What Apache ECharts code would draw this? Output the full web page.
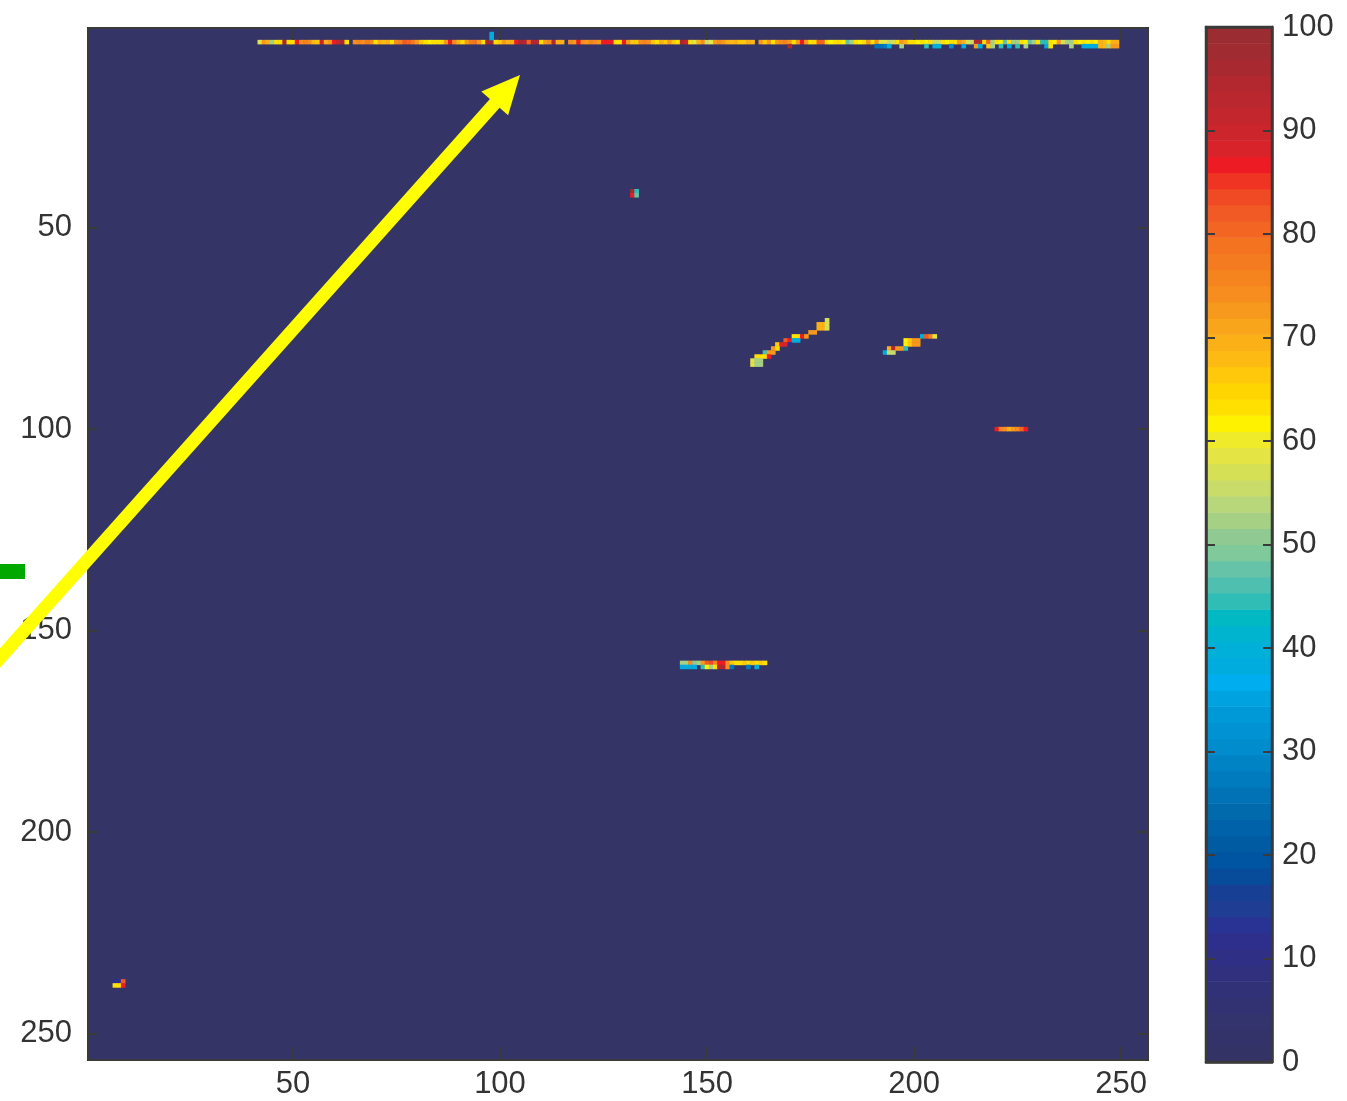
<!DOCTYPE html>
<html>
<head>
<meta charset="utf-8">
<script src="https://cdn.jsdelivr.net/npm/echarts/dist/echarts.min.js"></script>
<style>
html,body{margin:0;padding:0;background:#ffffff;}
#chart{width:1347px;height:1101px;}
</style>
</head>
<body>
<div id="chart"></div>
<script>
// ---------------- data ----------------
const nCols = 256;
const nRows = 256;
const xTickValues = [50, 100, 150, 200, 250];
const yTickValues = [50, 100, 150, 200, 250];
const colorbarMin = 0;
const colorbarMax = 100;
const colorbarStep = 10;

// 64-level colormap, value 0 (bottom) -> 100 (top)
const colormap = [
  '#343366','#343369','#33336e','#323273','#313178','#30307f','#2f2f85','#2e2f8c',
  '#283393','#1f3d92','#173f94','#074c9b','#0055a2','#005ba3','#0062a8','#006aad',
  '#0072b5','#007bbe','#0083c5','#008ccd','#0092d2','#0099d8','#00a2e0','#00aeef',
  '#00acde','#00b0d8','#00b4cf','#00b9c2','#2fbdb5','#4fc0b0','#66c3a8','#80c99b',
  '#90ca92','#a6d185','#b8d67a','#c9dc6a','#d6e055','#e4e444','#f0eb2a','#fff200',
  '#ffe000','#ffd500','#ffc80a','#fcba12','#fbb018','#f9a51b','#f7991c','#f68d1e',
  '#f5841f','#f47b20','#f37321','#f26522','#f15a24','#f04a24','#ef3424','#ed1c24',
  '#d8232a','#cc252c','#c4262d','#bb272e','#b3282f','#a82a30','#a02b31','#9b2d32'
];

// row 4: values for columns 42..249 (null = empty pixel)
const row4StartCol = 42;
const row4Values = [
  58,72,70,53,63,63,96,63,63,86,
  74,76,74,68,66,90,70,72,87,92,
  96,63,null,74,76,74,78,74,63,70,
  68,70,63,74,76,82,80,78,73,67,
  63,62,63,64,63,72,87,74,70,63,
  72,78,79,72,64,96,96,63,66,72,
  69,70,86,96,95,80,95,95,63,72,
  74,95,69,70,null,74,72,87,74,72,
  76,74,72,87,86,87,63,63,86,72,
  67,67,74,76,74,66,63,69,66,72,
  66,63,96,92,63,58,70,74,56,58,
  72,74,72,69,68,70,67,66,70,68,
  null,72,67,72,63,72,74,76,72,63,
  72,87,72,63,63,80,80,63,62,64,
  63,62,48,53,63,62,64,72,63,72,
  58,58,55,57,63,72,69,63,63,62,
  63,62,63,56,55,63,62,63,63,72,
  69,57,55,95,95,63,80,53,63,62,
  48,63,53,53,63,62,47,53,63,45,
  45,63,62,72,57,53,53,63,62,63,
  62,63,62,69,68,63,69,70
];

// row 5: [column, value]
const row5Cells = [
  [170,96],[191,26],[192,26],[193,27],[194,38],[197,52],[203,45],[205,40],[206,40],
  [209,30],[212,38],[215,72],[216,38],[218,67],[219,52],[221,45],[223,38],[225,45],
  [227,52],[232,38],[233,63],[238,52],[241,38],[242,38],[243,38],[244,38],[245,69],
  [246,68],[247,52],[248,72],[249,72]
];

// isolated features: [column, row, value]
const speckTop = [[98,2,38],[98,3,38]];
const blob41 = [[132,41,96],[132,42,87],[133,41,45],[133,42,48]];
const arcA = [
  [179,73,57],
  [177,74,69],[178,74,69],[179,74,57],
  [177,75,69],[178,75,69],[179,75,57],
  [175,76,73],[176,76,73],
  [171,77,63],[172,77,63],[173,77,87],[174,77,72],
  [169,78,82],[170,78,87],[171,78,40],[172,78,40],
  [167,79,66],[168,79,88],[169,79,88],[170,79,12],
  [166,80,73],[167,80,63],
  [164,81,46],[165,81,73],[166,81,73],
  [162,82,63],[163,82,63],[164,82,63],[165,82,87],
  [161,83,58],[162,83,53],[163,83,53],
  [161,84,58],[162,84,53],[163,84,53]
];
const arcB = [
  [202,77,40],[203,77,82],[204,77,75],[205,77,58],
  [198,78,62],[199,78,66],[200,78,72],[201,78,73],
  [198,79,62],[199,79,66],[200,79,72],[201,79,73],
  [194,80,70],[195,80,94],[196,80,73],[197,80,73],[198,80,44],
  [193,81,38],[194,81,56],[195,81,56]
];
const streak100 = [
  [220,100,86],[221,100,76],[222,100,74],[223,100,70],[224,100,72],[225,100,74],[226,100,80],[227,100,86]
];
const streak158 = [
  [144,158,53],[145,158,53],[146,158,74],[147,158,50],[148,158,53],[149,158,72],[150,158,82],
  [151,158,84],[152,158,76],[153,158,87],[154,158,87],[155,158,74],[156,158,66],[157,158,64],
  [158,158,64],[159,158,66],[160,158,64],[161,158,66],[162,158,64],[163,158,66],[164,158,64]
];
const streak159 = [
  [144,159,38],[145,159,38],[146,159,38],[147,159,38],[149,159,44],[150,159,62],[151,159,53],
  [152,159,63],[153,159,95],[154,159,95],[155,159,74],[156,159,28],[160,159,28],[162,159,38]
];
const speck237 = [[7,237,12],[8,237,12],[9,237,82],[7,238,63],[8,238,63],[9,238,87]];

// ---------------- build ----------------
const xCats = [];
for (let i = 1; i <= nCols; i++) xCats.push(String(i));
const yCats = [];
for (let i = 1; i <= nRows; i++) yCats.push(String(i));

const cells = [];
function addCell(col, row, v) { if (v !== null && v !== undefined) cells.push([col - 1, row - 1, v]); }
row4Values.forEach((v, i) => addCell(row4StartCol + i, 4, v));
row5Cells.forEach(c => addCell(c[0], 5, c[1]));
[speckTop, blob41, arcA, arcB, streak100, streak158, streak159, speck237]
  .forEach(list => list.forEach(c => addCell(c[0], c[1], c[2])));

const nLevels = colormap.length;
const pieces = colormap.map((c, i) => {
  const p = { gte: colorbarMin + i * (colorbarMax - colorbarMin) / nLevels, color: c };
  if (i < nLevels - 1) p.lt = colorbarMin + (i + 1) * (colorbarMax - colorbarMin) / nLevels;
  else p.lte = colorbarMax;
  return p;
});
const colorbarData = colormap.map((c, i) => [
  colorbarMin + i * (colorbarMax - colorbarMin) / nLevels,
  colorbarMin + (i + 1) * (colorbarMax - colorbarMin) / nLevels,
  i
]);

// ---------------- style ----------------
const ink = '#3a3a3a';
const labelFont = { fontSize: 31, color: '#333333', fontFamily: 'Liberation Sans' };
const showX = (idx) => xTickValues.indexOf(idx + 1) >= 0;
const showY = (idx) => yTickValues.indexOf(idx + 1) >= 0;
const lineStyle = { color: ink, width: 2 };

const option = {
  animation: false,
  backgroundColor: '#ffffff',
  grid: [
    { left: 88, top: 28, width: 1060, height: 1032, show: true, backgroundColor: '#343467',
      borderColor: ink, borderWidth: 2, containLabel: false, outerBoundsMode: 'none' },
    { left: 1206, top: 27, width: 66, height: 1035, show: true, z: 10, backgroundColor: 'rgba(0,0,0,0)',
      borderColor: ink, borderWidth: 2.5, containLabel: false, outerBoundsMode: 'none' }
  ],
  visualMap: {
    type: 'piecewise', show: false, seriesIndex: 0, dimension: 2, pieces: pieces
  },
  xAxis: [
    { type: 'category', gridIndex: 0, data: xCats, position: 'bottom', z: 10,
      axisLine: { show: true, onZero: false, lineStyle: lineStyle },
      axisTick: { show: true, inside: true, length: 13, alignWithLabel: true, interval: showX, lineStyle: lineStyle },
      axisLabel: Object.assign({ show: true, interval: showX, margin: 9, hideOverlap: false }, labelFont),
      splitLine: { show: false }, splitArea: { show: false } },
    { type: 'category', gridIndex: 0, data: xCats, position: 'top', z: 10,
      axisLine: { show: true, onZero: false, lineStyle: lineStyle },
      axisTick: { show: true, inside: true, length: 12, alignWithLabel: true, interval: showX, lineStyle: lineStyle },
      axisLabel: { show: false },
      splitLine: { show: false }, splitArea: { show: false } },
    { type: 'category', gridIndex: 1, data: [''], position: 'bottom', z: 10,
      axisLine: { show: true, onZero: false, lineStyle: { color: ink, width: 2.5 } },
      axisTick: { show: false }, axisLabel: { show: false }, splitLine: { show: false } },
    { type: 'category', gridIndex: 1, data: [''], position: 'top', z: 10,
      axisLine: { show: true, onZero: false, lineStyle: { color: ink, width: 2.5 } },
      axisTick: { show: false }, axisLabel: { show: false }, splitLine: { show: false } }
  ],
  yAxis: [
    { type: 'category', gridIndex: 0, data: yCats, inverse: true, position: 'left', z: 10,
      axisLine: { show: true, onZero: false, lineStyle: lineStyle },
      axisTick: { show: true, inside: true, length: 10, alignWithLabel: true, interval: showY, lineStyle: lineStyle },
      axisLabel: Object.assign({ show: true, interval: showY, margin: 16, padding: [0, 0, 4, 0], hideOverlap: false }, labelFont),
      splitLine: { show: false }, splitArea: { show: false } },
    { type: 'category', gridIndex: 0, data: yCats, inverse: true, position: 'right', z: 10,
      axisLine: { show: true, onZero: false, lineStyle: lineStyle },
      axisTick: { show: true, inside: true, length: 10, alignWithLabel: true, interval: showY, lineStyle: lineStyle },
      axisLabel: { show: false },
      splitLine: { show: false }, splitArea: { show: false } },
    { type: 'value', gridIndex: 1, min: colorbarMin, max: colorbarMax, interval: colorbarStep, position: 'left', z: 10,
      axisLine: { show: true, onZero: false, lineStyle: { color: ink, width: 2.5 } },
      axisTick: { show: true, inside: true, length: 9, lineStyle: { color: ink, width: 2 } },
      axisLabel: { show: false }, splitLine: { show: false } },
    { type: 'value', gridIndex: 1, min: colorbarMin, max: colorbarMax, interval: colorbarStep, position: 'right', z: 10,
      axisLine: { show: true, onZero: false, lineStyle: { color: ink, width: 2.5 } },
      axisTick: { show: true, inside: true, length: 9, lineStyle: { color: ink, width: 2 } },
      axisLabel: Object.assign({ show: true, margin: 10, padding: [0, 0, 10, 0], showMinLabel: true, showMaxLabel: true, hideOverlap: false }, labelFont),
      splitLine: { show: false } }
  ],
  series: [
    { type: 'heatmap', xAxisIndex: 0, yAxisIndex: 0, data: cells, progressive: 0,
      itemStyle: { borderWidth: 0 }, emphasis: { disabled: true }, label: { show: false } },
    { type: 'custom', xAxisIndex: 2, yAxisIndex: 2, data: colorbarData, silent: true, z: 1,
      encode: { y: [0, 1] },
      renderItem: function (params, api) {
        const lo = api.coord([0, api.value(0)]);
        const hi = api.coord([0, api.value(1)]);
        const cs = params.coordSys;
        return {
          type: 'rect',
          shape: { x: cs.x, y: hi[1], width: cs.width, height: lo[1] - hi[1] + 0.6 },
          style: { fill: colormap[api.value(2)] }
        };
      } }
  ],
  graphic: [
    { type: 'polygon', z: 100, silent: true,
      shape: { points: [[-21.5, 672.3], [489.9, 99.0], [481.3, 91.4], [520, 75], [508.1, 115.3], [499.6, 107.7], [-11.8, 681.0]] },
      style: { fill: '#ffff00' } },
    { type: 'rect', z: 100, silent: true,
      shape: { x: 0, y: 564, width: 25, height: 15 },
      style: { fill: '#00a800' } }
  ]
};

const chart = echarts.init(document.getElementById('chart'), null, { renderer: 'canvas' });
chart.setOption(option);
</script>
</body>
</html>
